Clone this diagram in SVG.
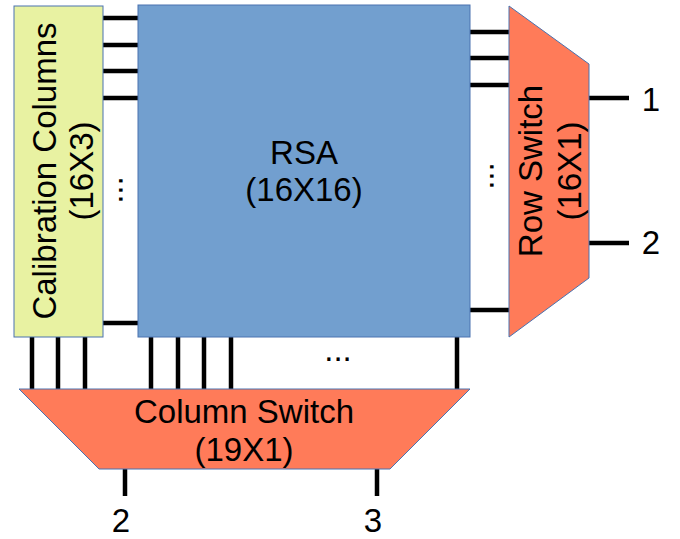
<svg xmlns="http://www.w3.org/2000/svg" width="680" height="539" viewBox="0 0 680 539">
<style>
text{font-family:"Liberation Sans",Arial,sans-serif;font-size:33px;fill:#000}
.t{text-anchor:middle}
.w{stroke:#000;stroke-width:4.5;fill:none}
.b{stroke:#4a72b0;stroke-width:1}
</style>
<rect width="680" height="539" fill="#fff"/>
<g id="connectors">
<path class="w" d="M103 18H138M103 45H138M103 71H138M103 98H138M103 323H138"/>
<path class="w" d="M470 32H509M470 58H509M470 85H509M470 310H509"/>
<path class="w" d="M589 98H629M589 243H629"/>
<path class="w" d="M32 337V389M58 337V389M85 337V389M151 337V389M178 337V389M204 337V389M231 337V389M457 337V389"/>
<path class="w" d="M125 469V496M377 469V496"/>
</g>
<g id="calibration">
<rect class="b" x="14" y="6" width="89" height="331" fill="#e8f2a2"/>
<text class="t" transform="translate(56,171) rotate(-90)">Calibration Columns</text>
<text class="t" transform="translate(93,171) rotate(-90)">(16X3)</text>
</g>
<g id="rsa">
<rect class="b" x="138" y="5" width="332" height="332" fill="#729fcf"/>
<text class="t" x="304" y="164">RSA</text>
<text class="t" x="304" y="201">(16X16)</text>
</g>
<g id="rowswitch">
<polygon class="b" points="509,6 589,64 589,278 509,337" fill="#ff7b59"/>
<text class="t" transform="translate(542,171) rotate(-90)">Row Switch</text>
<text class="t" transform="translate(581,171) rotate(-90)">(16X1)</text>
</g>
<g id="colswitch">
<polygon class="b" points="19,389 470,389 390,469 99,469" fill="#ff7b59"/>
<text class="t" x="244" y="423">Column Switch</text>
<text class="t" x="244" y="461">(19X1)</text>
</g>
<g id="labels">
<text class="t" x="651" y="111">1</text>
<text class="t" x="651" y="254">2</text>
<text class="t" x="121" y="532">2</text>
<text class="t" x="373" y="532">3</text>
<text class="t" transform="translate(119,190) rotate(90)">...</text>
<text class="t" transform="translate(490,176) rotate(90)">...</text>
<text class="t" x="338" y="361">...</text>
</g>
</svg>
